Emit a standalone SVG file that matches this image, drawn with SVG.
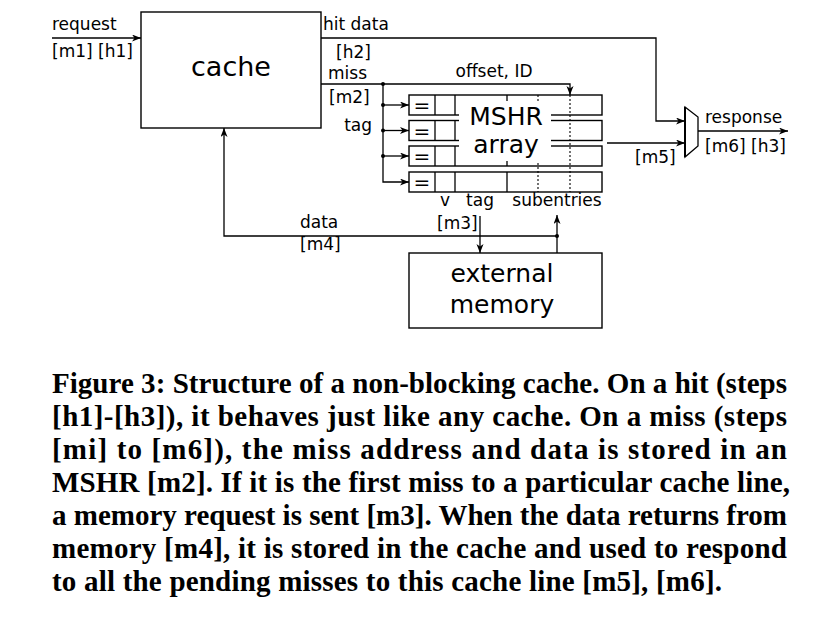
<svg xmlns="http://www.w3.org/2000/svg" width="818" height="622" viewBox="0 0 818 622">
<defs>
<marker id="ah" markerUnits="userSpaceOnUse" markerWidth="10" markerHeight="8" refX="9" refY="3.5" orient="auto">
<path d="M0,0 L9,3.5 L0,7 L2.5,3.5 z" fill="#000"/>
</marker>
</defs>
<style>
.box{fill:#fff;stroke:#000;stroke-width:1.4}
.ln{fill:none;stroke:#000;stroke-width:1.3}
.dash{fill:none;stroke:#000;stroke-width:1.1;stroke-dasharray:2,2}
.lbl{font-family:"DejaVu Sans",sans-serif;font-size:17px;fill:#000}
.big{font-family:"DejaVu Sans",sans-serif;fill:#000;text-anchor:middle}
.cap{font-family:"Liberation Serif","Times New Roman",serif;font-weight:bold;font-size:29px;fill:#000}
.dot{fill:#000}
</style>
<rect width="818" height="622" fill="#fff"/>

<g id="cache">
<rect class="box" x="141" y="12" width="180" height="116"/>
<text class="big" x="231" y="76" font-size="27">cache</text>
</g>

<g id="mshr">
<g id="row1">
<rect class="box" x="409" y="95" width="193" height="20"/>
<line class="ln" x1="435" y1="95" x2="435" y2="115"/>
<line class="ln" x1="455" y1="95" x2="455" y2="115"/>
<line class="ln" x1="507" y1="95" x2="507" y2="115"/>
</g>
<g id="row2">
<rect class="box" x="409" y="120.5" width="193" height="20"/>
<line class="ln" x1="435" y1="120.5" x2="435" y2="140.5"/>
<line class="ln" x1="455" y1="120.5" x2="455" y2="140.5"/>
<line class="ln" x1="507" y1="120.5" x2="507" y2="140.5"/>
</g>
<g id="row3">
<rect class="box" x="409" y="146" width="193" height="20"/>
<line class="ln" x1="435" y1="146" x2="435" y2="166"/>
<line class="ln" x1="455" y1="146" x2="455" y2="166"/>
<line class="ln" x1="507" y1="146" x2="507" y2="166"/>
</g>
<g id="row4">
<rect class="box" x="409" y="172" width="193" height="20"/>
<line class="ln" x1="435" y1="172" x2="435" y2="192"/>
<line class="ln" x1="455" y1="172" x2="455" y2="192"/>
<line class="ln" x1="507" y1="172" x2="507" y2="192"/>
</g>
<line class="dash" x1="538" y1="95" x2="538" y2="192"/>
<line class="dash" x1="570" y1="95" x2="570" y2="192"/>
<rect x="459" y="101" width="92" height="60" fill="#fff"/>
<text class="big" x="506" y="125" font-size="25">MSHR</text>
<text class="big" x="506" y="153" font-size="25">array</text>
<g class="big" font-size="20">
<text x="422" y="112">=</text>
<text x="422" y="137.5">=</text>
<text x="422" y="163">=</text>
<text x="422" y="189">=</text>
</g>
<text class="lbl" x="445" y="206" text-anchor="middle">v</text>
<text class="lbl" x="480" y="206" text-anchor="middle">tag</text>
<text class="lbl" x="557" y="206" text-anchor="middle">subentries</text>
</g>

<g id="mux">
<path d="M685,107 L698,117 L698,146 L685,157 Z" fill="#fff" stroke="#000" stroke-width="1.3"/>
<line x1="685" y1="107" x2="685" y2="157" stroke="#000" stroke-width="2"/>
</g>

<g id="external-memory">
<rect class="box" x="409" y="253" width="193" height="75"/>
<text class="big" x="502" y="282" font-size="25">external</text>
<text class="big" x="502" y="313" font-size="25">memory</text>
</g>

<g id="connectors">
<line class="ln" x1="52" y1="38" x2="141" y2="38" marker-end="url(#ah)"/>
<polyline class="ln" points="321,38 656,38 656,121 685,121" marker-end="url(#ah)"/>
<polyline class="ln" points="321,84 570,84 570,95" marker-end="url(#ah)"/>
<polyline class="ln" points="383,84 383,182 409,182" marker-end="url(#ah)"/>
<line class="ln" x1="383" y1="105" x2="409" y2="105" marker-end="url(#ah)"/>
<line class="ln" x1="383" y1="130.5" x2="409" y2="130.5" marker-end="url(#ah)"/>
<line class="ln" x1="383" y1="156" x2="409" y2="156" marker-end="url(#ah)"/>
<circle class="dot" cx="383" cy="84" r="2"/>
<circle class="dot" cx="383" cy="105" r="2"/>
<circle class="dot" cx="383" cy="130.5" r="2"/>
<circle class="dot" cx="383" cy="156" r="2"/>
<line class="ln" x1="607" y1="143" x2="685" y2="143" marker-end="url(#ah)"/>
<line class="ln" x1="698" y1="131" x2="788" y2="131" marker-end="url(#ah)"/>
<line class="ln" x1="480" y1="216" x2="480" y2="253" marker-end="url(#ah)"/>
<line class="ln" x1="557" y1="253" x2="557" y2="215" marker-end="url(#ah)"/>
<polyline class="ln" points="557,236 224,236 224,128" marker-end="url(#ah)"/>
<circle class="dot" cx="557" cy="236" r="2"/>
</g>

<g id="labels">
<text class="lbl" x="52" y="30">request</text>
<text class="lbl" x="52" y="57">[m1] [h1]</text>
<text class="lbl" x="323" y="30">hit data</text>
<text class="lbl" x="336" y="58">[h2]</text>
<text class="lbl" x="328" y="79">miss</text>
<text class="lbl" x="329" y="103">[m2]</text>
<text class="lbl" x="372" y="131" text-anchor="end">tag</text>
<text class="lbl" x="494" y="77" text-anchor="middle">offset, ID</text>
<text class="lbl" x="705" y="123">response</text>
<text class="lbl" x="705" y="152">[m6] [h3]</text>
<text class="lbl" x="635" y="163">[m5]</text>
<text class="lbl" x="300" y="228">data</text>
<text class="lbl" x="300" y="250">[m4]</text>
<text class="lbl" x="437" y="229">[m3]</text>
</g>

<g id="caption">
<text class="cap" x="52" y="393" textLength="735" lengthAdjust="spacing">Figure 3: Structure of a non-blocking cache. On a hit (steps</text>
<text class="cap" x="52" y="426" textLength="735" lengthAdjust="spacing">[h1]-[h3]), it behaves just like any cache. On a miss (steps</text>
<text class="cap" x="52" y="459" textLength="735" lengthAdjust="spacing">[mi] to [m6]), the miss address and data is stored in an</text>
<text class="cap" x="52" y="492" textLength="738" lengthAdjust="spacing">MSHR [m2]. If it is the first miss to a particular cache line,</text>
<text class="cap" x="52" y="525" textLength="735" lengthAdjust="spacing">a memory request is sent [m3]. When the data returns from</text>
<text class="cap" x="52" y="558" textLength="735" lengthAdjust="spacing">memory [m4], it is stored in the cache and used to respond</text>
<text class="cap" x="52" y="591" textLength="670" lengthAdjust="spacing">to all the pending misses to this cache line [m5], [m6].</text>
</g>
</svg>
